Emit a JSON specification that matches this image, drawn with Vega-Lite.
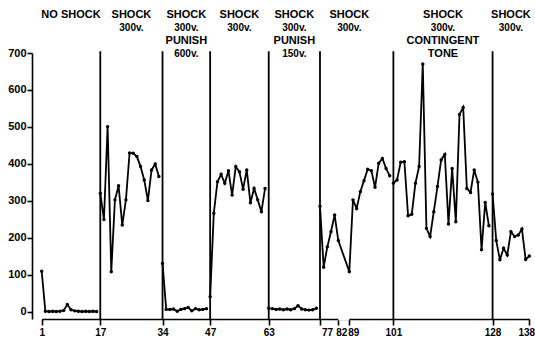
{
  "$schema": "https://vega.github.io/schema/vega-lite/v6.json",
  "width": 497,
  "height": 266,
  "autosize": {"type": "none"},
  "padding": {"left": 32, "top": 53, "right": 6, "bottom": 26},
  "background": "white",
  "config": {"view": {"stroke": null}, "font": "Liberation Sans"},
  "datasets": {
    "sessions": [
      {"s": 1, "v": 110, "p": 1}, {"s": 2, "v": 2, "p": 1}, {"s": 3, "v": 1, "p": 1}, {"s": 4, "v": 2, "p": 1},
      {"s": 5, "v": 1, "p": 1}, {"s": 6, "v": 2, "p": 1}, {"s": 7, "v": 4, "p": 1}, {"s": 8, "v": 20, "p": 1},
      {"s": 9, "v": 6, "p": 1}, {"s": 10, "v": 3, "p": 1}, {"s": 11, "v": 2, "p": 1}, {"s": 12, "v": 1, "p": 1},
      {"s": 13, "v": 2, "p": 1}, {"s": 14, "v": 1, "p": 1}, {"s": 15, "v": 2, "p": 1}, {"s": 16, "v": 1, "p": 1},
      {"s": 17, "v": 321, "p": 2}, {"s": 18, "v": 250, "p": 2}, {"s": 19, "v": 501, "p": 2}, {"s": 20, "v": 109, "p": 2},
      {"s": 21, "v": 303, "p": 2}, {"s": 22, "v": 341, "p": 2}, {"s": 23, "v": 235, "p": 2}, {"s": 24, "v": 303, "p": 2},
      {"s": 25, "v": 430, "p": 2}, {"s": 26, "v": 429, "p": 2}, {"s": 27, "v": 420, "p": 2}, {"s": 28, "v": 393, "p": 2},
      {"s": 29, "v": 357, "p": 2}, {"s": 30, "v": 301, "p": 2}, {"s": 31, "v": 384, "p": 2}, {"s": 32, "v": 400, "p": 2},
      {"s": 33, "v": 366, "p": 2},
      {"s": 34, "v": 131, "p": 3}, {"s": 35, "v": 7, "p": 3}, {"s": 36, "v": 7, "p": 3}, {"s": 37, "v": 8, "p": 3},
      {"s": 38, "v": 2, "p": 3}, {"s": 39, "v": 7, "p": 3}, {"s": 40, "v": 9, "p": 3}, {"s": 41, "v": 12, "p": 3},
      {"s": 42, "v": 3, "p": 3}, {"s": 43, "v": 9, "p": 3}, {"s": 44, "v": 6, "p": 3}, {"s": 45, "v": 7, "p": 3},
      {"s": 46, "v": 9, "p": 3},
      {"s": 47, "v": 41, "p": 4}, {"s": 48, "v": 267, "p": 4}, {"s": 49, "v": 352, "p": 4}, {"s": 50, "v": 372, "p": 4},
      {"s": 51, "v": 348, "p": 4}, {"s": 52, "v": 382, "p": 4}, {"s": 53, "v": 316, "p": 4}, {"s": 54, "v": 393, "p": 4},
      {"s": 55, "v": 379, "p": 4}, {"s": 56, "v": 332, "p": 4}, {"s": 57, "v": 384, "p": 4}, {"s": 58, "v": 295, "p": 4},
      {"s": 59, "v": 334, "p": 4}, {"s": 60, "v": 303, "p": 4}, {"s": 61, "v": 271, "p": 4}, {"s": 62, "v": 334, "p": 4},
      {"s": 63, "v": 10, "p": 5}, {"s": 64, "v": 9, "p": 5}, {"s": 65, "v": 7, "p": 5}, {"s": 66, "v": 8, "p": 5},
      {"s": 67, "v": 6, "p": 5}, {"s": 68, "v": 8, "p": 5}, {"s": 69, "v": 6, "p": 5}, {"s": 70, "v": 9, "p": 5},
      {"s": 71, "v": 17, "p": 5}, {"s": 72, "v": 8, "p": 5}, {"s": 73, "v": 6, "p": 5}, {"s": 74, "v": 5, "p": 5},
      {"s": 75, "v": 6, "p": 5}, {"s": 76, "v": 10, "p": 5},
      {"s": 77, "v": 286, "p": 6}, {"s": 78, "v": 121, "p": 6}, {"s": 79, "v": 176, "p": 6}, {"s": 80, "v": 217, "p": 6},
      {"s": 81, "v": 262, "p": 6}, {"s": 82, "v": 193, "p": 6}, {"s": 89, "v": 109, "p": 6}, {"s": 90, "v": 303, "p": 6},
      {"s": 91, "v": 280, "p": 6}, {"s": 92, "v": 325, "p": 6}, {"s": 93, "v": 355, "p": 6}, {"s": 94, "v": 386, "p": 6},
      {"s": 95, "v": 382, "p": 6}, {"s": 96, "v": 337, "p": 6}, {"s": 97, "v": 402, "p": 6}, {"s": 98, "v": 415, "p": 6},
      {"s": 99, "v": 388, "p": 6}, {"s": 100, "v": 368, "p": 6},
      {"s": 101, "v": 348, "p": 7}, {"s": 102, "v": 357, "p": 7}, {"s": 103, "v": 405, "p": 7}, {"s": 104, "v": 406, "p": 7},
      {"s": 105, "v": 260, "p": 7}, {"s": 106, "v": 264, "p": 7}, {"s": 107, "v": 348, "p": 7}, {"s": 108, "v": 393, "p": 7},
      {"s": 109, "v": 670, "p": 7}, {"s": 110, "v": 226, "p": 7}, {"s": 111, "v": 204, "p": 7}, {"s": 112, "v": 271, "p": 7},
      {"s": 113, "v": 339, "p": 7}, {"s": 114, "v": 411, "p": 7}, {"s": 115, "v": 426, "p": 7}, {"s": 116, "v": 238, "p": 7},
      {"s": 117, "v": 388, "p": 7}, {"s": 118, "v": 244, "p": 7}, {"s": 119, "v": 534, "p": 7}, {"s": 120, "v": 553, "p": 7},
      {"s": 121, "v": 334, "p": 7}, {"s": 122, "v": 323, "p": 7}, {"s": 123, "v": 384, "p": 7}, {"s": 124, "v": 351, "p": 7},
      {"s": 125, "v": 168, "p": 7}, {"s": 126, "v": 296, "p": 7}, {"s": 127, "v": 233, "p": 7},
      {"s": 128, "v": 319, "p": 8}, {"s": 129, "v": 193, "p": 8}, {"s": 130, "v": 141, "p": 8}, {"s": 131, "v": 172, "p": 8},
      {"s": 132, "v": 154, "p": 8}, {"s": 133, "v": 217, "p": 8}, {"s": 134, "v": 204, "p": 8}, {"s": 135, "v": 208, "p": 8},
      {"s": 136, "v": 224, "p": 8}, {"s": 137, "v": 142, "p": 8}, {"s": 138, "v": 151, "p": 8}
    ],
    "phases": [
      {"start": 17}, {"start": 34}, {"start": 47}, {"start": 63}, {"start": 77}, {"start": 101}, {"start": 128}
    ],
    "gap": [{"a": 82, "b": 89}],
    "headers": [
      {"start": 1, "end": 17, "line": 1, "k": "w", "t": "NO  SHOCK"},
      {"start": 17, "end": 34, "line": 1, "k": "w", "t": "SHOCK"},
      {"start": 17, "end": 34, "line": 2, "k": "n", "t": "300v."},
      {"start": 34, "end": 47, "line": 1, "k": "w", "t": "SHOCK"},
      {"start": 34, "end": 47, "line": 2, "k": "n", "t": "300v."},
      {"start": 34, "end": 47, "line": 3, "k": "w", "t": "PUNISH"},
      {"start": 34, "end": 47, "line": 4, "k": "n", "t": "600v."},
      {"start": 47, "end": 63, "line": 1, "k": "w", "t": "SHOCK"},
      {"start": 47, "end": 63, "line": 2, "k": "n", "t": "300v."},
      {"start": 63, "end": 77, "line": 1, "k": "w", "t": "SHOCK"},
      {"start": 63, "end": 77, "line": 2, "k": "n", "t": "300v."},
      {"start": 63, "end": 77, "line": 3, "k": "w", "t": "PUNISH"},
      {"start": 63, "end": 77, "line": 4, "k": "n", "t": "150v."},
      {"start": 77, "end": 101, "line": 1, "k": "w", "t": "SHOCK"},
      {"start": 77, "end": 101, "line": 2, "k": "n", "t": "300v."},
      {"start": 101, "end": 128, "line": 1, "k": "w", "t": "SHOCK"},
      {"start": 101, "end": 128, "line": 2, "k": "n", "t": "300v."},
      {"start": 101, "end": 128, "line": 3, "k": "w", "t": "CONTINGENT"},
      {"start": 101, "end": 128, "line": 4, "k": "w", "t": "TONE"},
      {"start": 128, "end": 138, "line": 1, "k": "w", "t": "SHOCK"},
      {"start": 128, "end": 138, "line": 2, "k": "n", "t": "300v."}
    ]
  },
  "resolve": {"scale": {"y": "independent"}},
  "layer": [
    {
      "layer": [
        {
          "data": {"name": "sessions"},
          "mark": {
            "type": "line", "color": "black", "strokeWidth": 1.8,
            "point": {"filled": true, "size": 12, "color": "black"}
          },
          "encoding": {
            "x": {
              "field": "s", "type": "quantitative",
              "scale": {"domain": [1, 82, 89, 138], "range": [9.7, 306.3, 317.3, 497.3], "nice": false, "zero": false},
              "axis": {
                "values": [1, 17, 34, 47, 63, 77, 82, 89, 101, 128, 138],
                "title": null, "grid": false,
                "domainColor": "black", "domainWidth": 1.6,
                "tickColor": "black", "tickWidth": 1.6, "tickSize": 6,
                "labelFont": "Liberation Sans", "labelFontWeight": "bold", "labelFontSize": 10,
                "labelColor": "black", "labelPadding": 2, "labelFlush": false, "labelOverlap": false,
                "labelOffset": {"condition": [
                  {"test": "datum.value == 77", "value": 7},
                  {"test": "datum.value == 82", "value": 3},
                  {"test": "datum.value == 89", "value": 4},
                  {"test": "datum.value == 138", "value": -3}
                ], "value": 0}
              }
            },
            "y": {
              "field": "v", "type": "quantitative",
              "scale": {"domain": [-19, 700], "nice": false, "zero": false},
              "axis": {
                "values": [0, 100, 200, 300, 400, 500, 600, 700],
                "tickCount": 8,
                "title": null, "grid": false,
                "domainColor": "black", "domainWidth": 1.6,
                "tickColor": "black", "tickWidth": 1.6, "tickSize": 5,
                "labelFont": "Liberation Sans", "labelFontWeight": "bold", "labelFontSize": 11,
                "labelColor": "black", "labelPadding": 1, "labelOverlap": false
              }
            },
            "detail": {"field": "p", "type": "nominal"}
          }
        },
        {
          "data": {"name": "phases"},
          "mark": {"type": "rule", "color": "black", "strokeWidth": 1.8},
          "encoding": {
            "x": {"field": "start", "type": "quantitative"},
            "y": {"datum": -19, "type": "quantitative"},
            "y2": {"datum": 705}
          }
        },
        {
          "data": {"name": "gap"},
          "mark": {"type": "rule", "color": "white", "strokeWidth": 3, "strokeCap": "butt"},
          "encoding": {
            "x": {"field": "a", "type": "quantitative"},
            "x2": {"field": "b"},
            "y": {"datum": -19, "type": "quantitative"}
          }
        }
      ]
    },
    {
      "data": {"name": "headers"},
      "transform": [{"calculate": "(datum.start + datum.end) / 2", "as": "mid"}],
      "layer": [
        {
          "transform": [{"filter": "datum.k == 'w'"}],
          "mark": {"type": "text", "font": "Liberation Sans", "fontWeight": "bold", "fontSize": 11, "baseline": "middle", "align": "center", "color": "black"},
          "encoding": {
            "x": {"field": "mid", "type": "quantitative"},
            "y": {"field": "line", "type": "quantitative", "scale": {"domain": [1, 4], "range": [-38.5, 0.5], "nice": false, "zero": false}, "axis": null},
            "text": {"field": "t"}
          }
        },
        {
          "transform": [{"filter": "datum.k == 'n'"}],
          "mark": {"type": "text", "font": "Liberation Sans", "fontWeight": "bold", "fontSize": 10, "baseline": "middle", "align": "center", "color": "black"},
          "encoding": {
            "x": {"field": "mid", "type": "quantitative"},
            "y": {"field": "line", "type": "quantitative", "axis": null},
            "text": {"field": "t"}
          }
        }
      ]
    }
  ]
}
